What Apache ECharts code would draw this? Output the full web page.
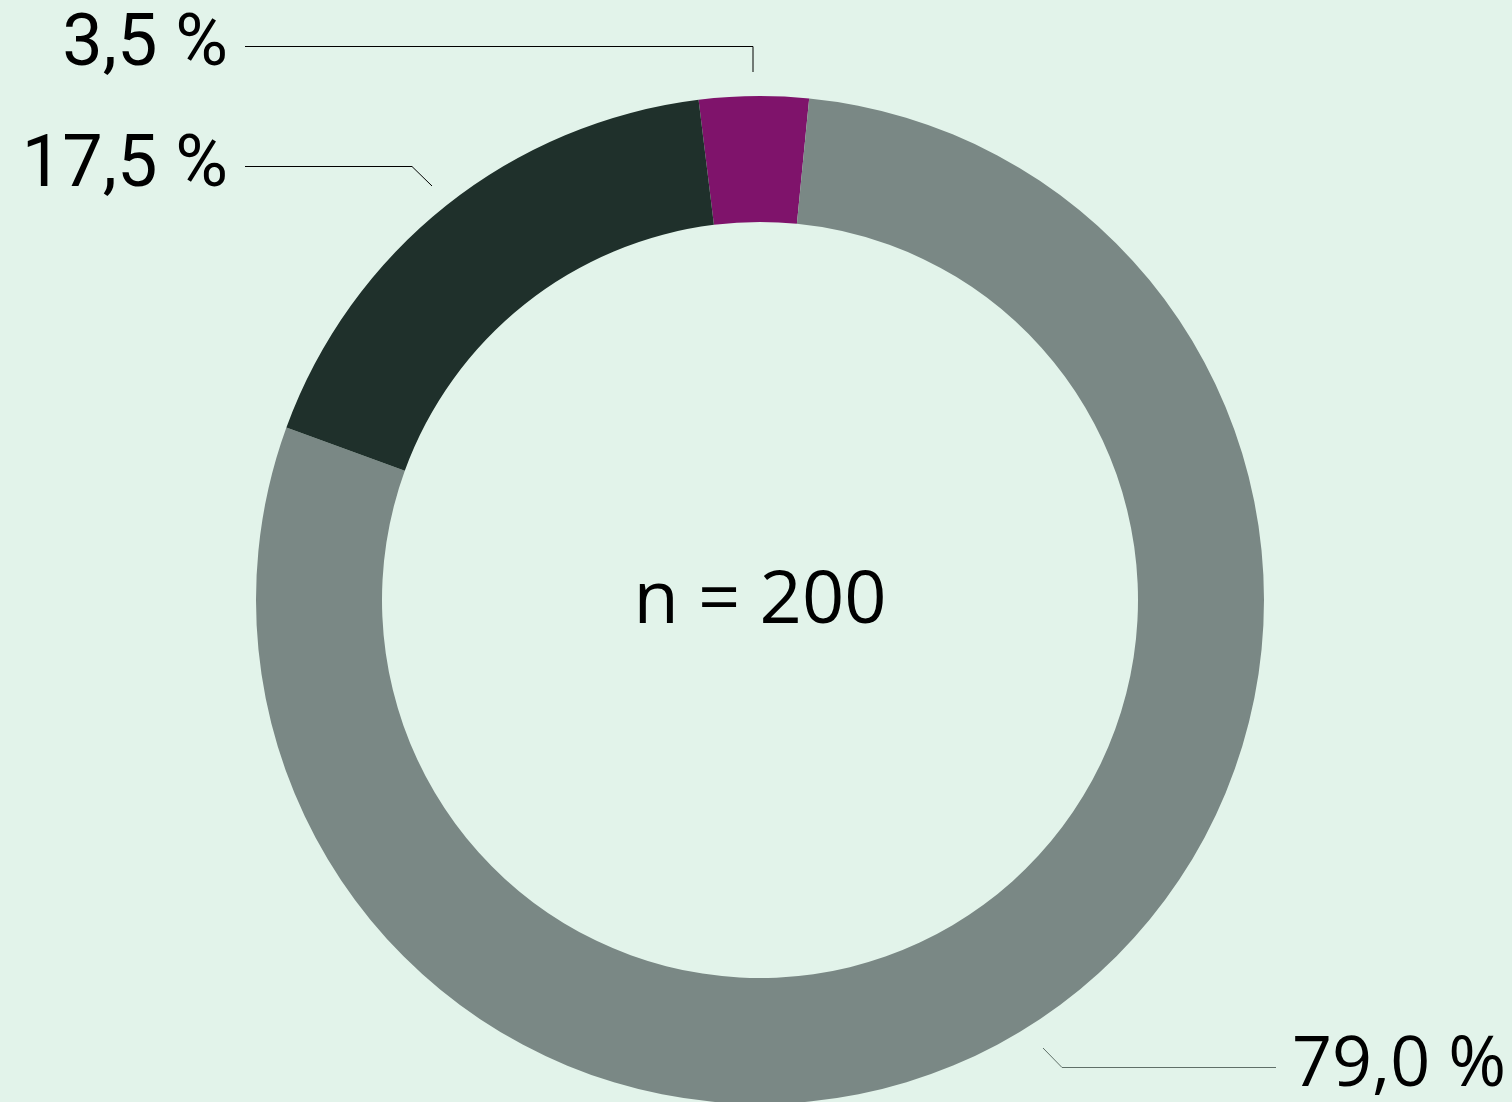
<!DOCTYPE html>
<html>
<head>
<meta charset="utf-8">
<script src="https://cdn.jsdelivr.net/npm/echarts@6/dist/echarts.min.js"></script>
<style>
	html, body { margin: 0; padding: 0; background: #e2f3ea; }
	#chart { width: 1512px; height: 1102px; }
</style>
</head>
<body>
<div id="chart"></div>
<script>
	// 数据
	var names = ['A', 'B', 'C'];
	var values = [3.5, 79.0, 17.5];
	var labels = ['3,5 %', '79,0 %', '17,5 %'];
	var colors = ['#7f136b', '#7a8885', '#1f302b'];
	var total = 'n = 200';

	// label positions (text anchor + leader line points)
	var labelPos = [
		{ x: 228, y: 47, align: 'right', pts: [[753, 72], [753, 46.5], [245, 46.5]], line: '#000' },
		{ x: 1292, y: 1066, align: 'left', pts: [[1043, 1048], [1062, 1067.5], [1276, 1067.5]], line: '#5f6f68' },
		{ x: 228, y: 168, align: 'right', pts: [[432, 186], [412, 166.5], [245, 166.5]], line: '#000' }
	];

	var myChart = echarts.init(document.getElementById('chart'));

	var seriesData = values.map(function (v, i) {
		return {
			name: names[i],
			value: v,
			itemStyle: { color: colors[i] },
			label: {
				formatter: labels[i],
				fontFamily: i === 1 ? 'Open Sans' : 'Roboto',
				fontSize: i === 1 ? 70 : 72
			},
			labelLine: { lineStyle: { color: labelPos[i].line, width: 1 } }
		};
	});

	var option = {
		backgroundColor: '#e2f3ea',
		animation: false,
		graphic: [{
			type: 'text',
			x: 760,
			y: 602,
			style: {
				text: total,
				fontFamily: 'Open Sans',
				fontSize: 74,
				fill: '#000',
				align: 'center',
				verticalAlign: 'middle'
			}
		}],
		series: [{
			type: 'pie',
			center: [760, 600],
			radius: [378, 504],
			startAngle: 97,
			clockwise: true,
			data: seriesData,
			label: {
				show: true,
				position: 'outside',
				color: '#000'
			},
			labelLine: {
				show: true,
				smooth: false
			},
			labelLayout: function (params) {
				var p = labelPos[params.dataIndex];
				return {
					x: p.x,
					y: p.y,
					align: p.align,
					verticalAlign: 'middle',
					labelLinePoints: p.pts
				};
			},
			emphasis: { disabled: true }
		}]
	};

	myChart.setOption(option);
</script>
</body>
</html>
